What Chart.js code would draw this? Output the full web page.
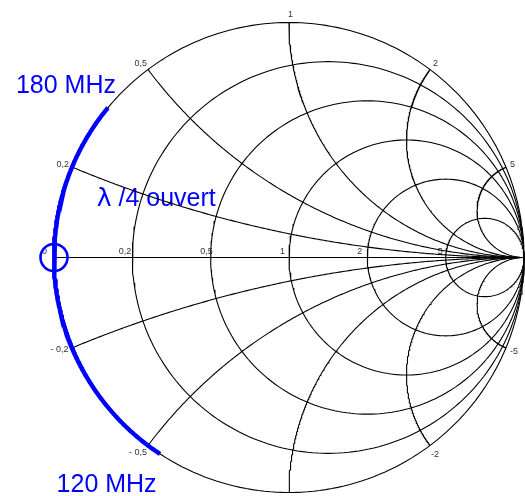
<!DOCTYPE html>
<html>
<head>
<meta charset="utf-8">
<script src="https://cdn.jsdelivr.net/npm/chart.js@4.4.1/dist/chart.umd.min.js"></script>
<style>
  html, body { margin: 0; padding: 0; background: #ffffff; overflow: hidden; }
  #wrap { position: relative; width: 525px; height: 496px; }
  canvas { display: block; }
</style>
</head>
<body>
<div id="wrap"><canvas id="smith"></canvas></div>
<script>
// Normalised resistance circles and reactance arcs of the Smith chart
const resistanceValues = [0, 0.2, 0.5, 1, 2, 5];
const resistanceLabels = ['0', '0,2', '0,5', '1', '2', '5'];
const reactanceValues = [0.2, 0.5, 1, 2, 5, -0.2, -0.5, -1, -2, -5];
const reactanceLabels = ['0,2', '0,5', '1', '2', '5', '- 0,2', '- 0,5', '-1', '-2', '-5'];

// Open quarter-wave stub swept from 120 to 180 MHz (normalised input reactance)
const sweepFrequencies = ['120 MHz', '180 MHz'];
const sweepReactance = [-0.54, 0.36];
const stubTitle = ['λ', ' /4 ouvert'];

const BLACK = '#000000';
const BLUE = '#0000ff';
const SAMPLES = 240;

// Reflection coefficient for a normalised impedance z = r + jx
function gamma(r, x) {
  const d = (r + 1) * (r + 1) + x * x;
  return { x: (r * r - 1 + x * x) / d, y: (2 * x) / d };
}

// Full circle of constant resistance r
function resistanceCircle(r) {
  const c = r / (r + 1), rad = 1 / (r + 1), pts = [];
  for (let k = 0; k <= SAMPLES; k++) {
    const t = (2 * Math.PI * k) / SAMPLES;
    pts.push({ x: c + rad * Math.cos(t), y: rad * Math.sin(t) });
  }
  return pts;
}

// Arc of constant reactance x, from the rim (r = 0) to the open-circuit point
function reactanceArc(x) {
  const pts = [];
  for (let k = 0; k < SAMPLES; k++) {
    const t = k / SAMPLES;
    pts.push(gamma(t / (1 - t), x));
  }
  pts.push({ x: 1, y: 0 });
  return pts;
}

// Rim arc swept by the stub between the two band edges (through the short-circuit point)
function sweepArc(xLow, xHigh) {
  const a0 = Math.atan2(gamma(0, xHigh).y, gamma(0, xHigh).x);
  let a1 = Math.atan2(gamma(0, xLow).y, gamma(0, xLow).x);
  if (a1 < a0) a1 += 2 * Math.PI;
  const pts = [];
  for (let k = 0; k <= SAMPLES; k++) {
    const a = a0 + ((a1 - a0) * k) / SAMPLES;
    pts.push({ x: Math.cos(a), y: Math.sin(a) });
  }
  return pts;
}

const lineStyle = (color, width) => ({
  showLine: true, borderColor: color, borderWidth: width, pointRadius: 0,
  fill: false, tension: 0, clip: false
});

const datasets = [];
// band sweep on the rim
datasets.push({ data: sweepArc(sweepReactance[0], sweepReactance[1]), ...lineStyle(BLUE, 4.4) });
// short-circuit marker at the centre frequency
datasets.push({
  data: [gamma(0, 0)], showLine: false, pointRadius: 13.5, pointHoverRadius: 13.5,
  pointBorderWidth: 2.6, pointBorderColor: BLUE, pointBackgroundColor: 'rgba(0,0,0,0)', clip: false
});
resistanceValues.forEach(r => datasets.push({ data: resistanceCircle(r), ...lineStyle(BLACK, 1.1) }));
reactanceValues.forEach(x => datasets.push({ data: reactanceArc(x), ...lineStyle(BLACK, 1.1) }));
// real axis
datasets.push({ data: [{ x: -1, y: 0 }, { x: 1, y: 0 }], ...lineStyle(BLACK, 1.1) });

// Grid labels: [dx, dy, align] relative to the point they name
const reactanceLabelPlacement = [
  [-3, 0, 'right'], [-1, -3.5, 'right'], [1.5, -5.5, 'center'], [3, -3.5, 'left'], [4, 0, 'left'],
  [-3.5, 4, 'right'], [-1, 9.5, 'right'], [0, 12, 'center'], [1, 11.5, 'left'], [4, 6, 'left']
];
const resistanceLabelPlacement = [
  [-7, -4, 'right'], [-1, -4, 'right'], [2, -4, 'right'], [-4, -4, 'right'], [-5, -4, 'right'], [-3, -4, 'right']
];

// Blue annotations (chart coordinates of the text's left baseline)
const BIG = '25px "Liberation Sans", Arial, sans-serif';
const GREEK = '25px "DejaVu Sans", "Liberation Sans", sans-serif';
const annotations = [
  { parts: [[sweepFrequencies[1], BIG]], at: { x: -1.162, y: 0.701 } },
  { parts: [[sweepFrequencies[0], BIG]], at: { x: -0.989, y: -0.997 } },
  { parts: [[stubTitle[0], GREEK], [stubTitle[1], BIG]], at: { x: -0.818, y: 0.220 } }
];

const smithText = {
  id: 'smithText',
  beforeDatasetsDraw(chart) {
    const { ctx, scales: { x: sx, y: sy } } = chart;
    ctx.save();
    ctx.font = '9px "Liberation Sans", Arial, sans-serif';
    ctx.fillStyle = '#333333';
    ctx.textBaseline = 'alphabetic';
    reactanceValues.forEach((x, i) => {
      const g = gamma(0, x), p = reactanceLabelPlacement[i];
      ctx.textAlign = p[2];
      ctx.fillText(reactanceLabels[i], sx.getPixelForValue(g.x) + p[0], sy.getPixelForValue(g.y) + p[1]);
    });
    resistanceValues.forEach((r, i) => {
      const g = gamma(r, 0), p = resistanceLabelPlacement[i];
      ctx.textAlign = p[2];
      ctx.fillText(resistanceLabels[i], sx.getPixelForValue(g.x) + p[0], sy.getPixelForValue(g.y) + p[1]);
    });
    ctx.fillStyle = BLUE;
    ctx.textAlign = 'left';
    annotations.forEach(a => {
      let px = sx.getPixelForValue(a.at.x);
      const py = sy.getPixelForValue(a.at.y);
      a.parts.forEach(([txt, font]) => {
        ctx.font = font;
        ctx.fillText(txt, px, py);
        px += ctx.measureText(txt).width;
      });
    });
    ctx.restore();
  }
};

new Chart(document.getElementById('smith'), {
  type: 'scatter',
  data: { datasets },
  options: {
    responsive: true,
    maintainAspectRatio: false,
    devicePixelRatio: 1,
    animation: false,
    events: [],
    layout: { autoPadding: false, padding: { left: 54, top: 22.5, right: 1, bottom: 3.5 } },
    scales: {
      x: { type: 'linear', min: -1, max: 1, display: false },
      y: { type: 'linear', min: -1, max: 1, display: false }
    },
    plugins: { legend: { display: false }, tooltip: { enabled: false } }
  },
  plugins: [smithText]
});
</script>
</body>
</html>
